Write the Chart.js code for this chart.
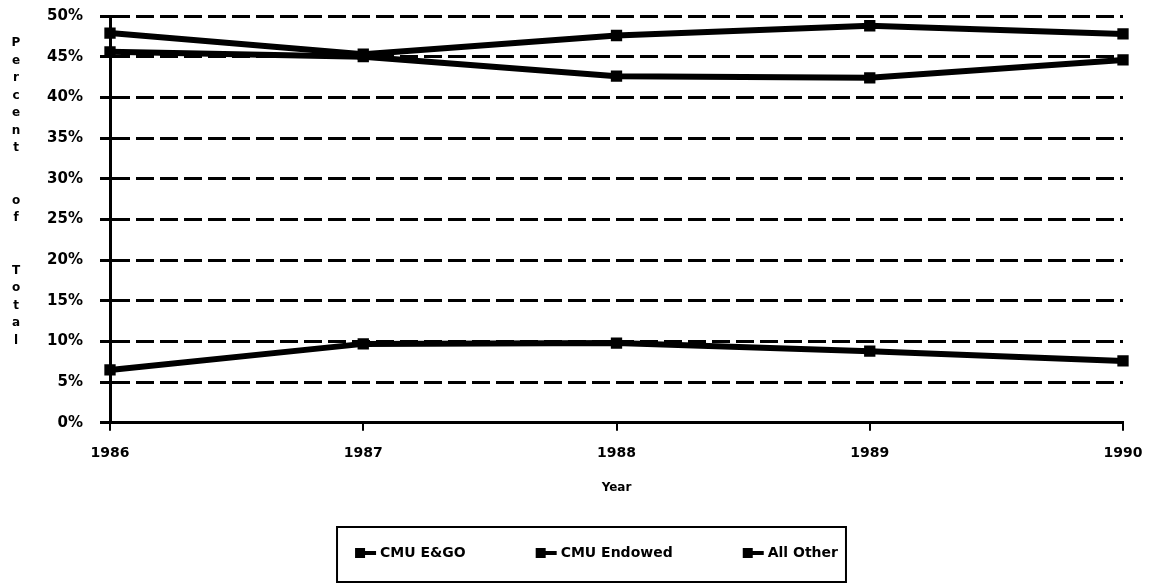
<!DOCTYPE html>
<html>
<head>
<meta charset="utf-8">
<script src="https://cdn.jsdelivr.net/npm/chart.js@4"></script>
<style>
  html, body { margin: 0; padding: 0; background: #fff; }
  #wrap { width: 1157px; height: 584px; position: relative; }
</style>
</head>
<body>
<div id="wrap"><canvas id="shareChart"></canvas></div>
<script>
// data
const years = ['1986', '1987', '1988', '1989', '1990'];
const cmuEgo = [6.5, 9.7, 9.8, 8.8, 7.6];
const cmuEndowed = [45.6, 45.0, 42.6, 42.4, 44.6];
const allOther = [47.9, 45.3, 47.6, 48.8, 47.8];
const seriesNames = ['CMU E&GO', 'CMU Endowed', 'All Other'];
const yTitle = 'Percent  of  Total';

const FONT = "'DejaVu Sans', sans-serif";
const legendBoxW = 88;

// little "square + line" marker used in the legend (transparent on the left to space items)
function legendMarker() {
  const c = document.createElement('canvas');
  c.width = legendBoxW + 8;
  c.height = 12;
  const g = c.getContext('2d');
  const x0 = c.width - 22;
  g.fillStyle = '#000';
  g.fillRect(x0, 1, 10, 10);
  g.fillRect(x0, 4, 21, 4);
  return c;
}

// stacked letters of the y title, one per line
const yTitlePlugin = {
  id: 'yTitle',
  afterDraw(chart) {
    const ctx = chart.ctx;
    ctx.save();
    ctx.font = 'bold 12px ' + FONT;
    ctx.fillStyle = '#000';
    ctx.textAlign = 'center';
    ctx.textBaseline = 'middle';
    const lines = yTitle.split('').map(ch => ch === ' ' ? '' : ch);
    const startY = chart.chartArea.top + 27;
    lines.forEach((ch, i) => {
      if (ch) ctx.fillText(ch, 16, startY + i * 17.5);
    });
    ctx.restore();
  }
};

// border round the legend
const legendBoxPlugin = {
  id: 'legendBox',
  afterDraw(chart) {
    const hb = chart.legend.legendHitBoxes;
    if (!hb || !hb.length) return;
    const ctx = chart.ctx;
    const last = hb[hb.length - 1];
    const left = hb[0].left + (legendBoxW - 22 + 4) - 18;
    const right = last.left + last.width + 8;
    const top = hb[0].top - 19;
    const bottom = hb[0].top + 36;
    ctx.save();
    ctx.strokeStyle = '#000';
    ctx.lineWidth = 2;
    ctx.strokeRect(left, top, right - left, bottom - top);
    ctx.restore();
  }
};

function makeSet(label, data) {
  return {
    label: label,
    data: data,
    borderColor: '#000',
    backgroundColor: '#000',
    borderWidth: 6,
    pointStyle: 'rect',
    pointRadius: 8,
    pointHoverRadius: 8,
    pointBackgroundColor: '#000',
    pointBorderWidth: 0,
    tension: 0,
    fill: false
  };
}

const ctx = document.getElementById('shareChart').getContext('2d');
const shareChart = new Chart(ctx, {
  type: 'line',
  data: {
    labels: years,
    datasets: [
      makeSet(seriesNames[0], cmuEgo),
      makeSet(seriesNames[1], cmuEndowed),
      makeSet(seriesNames[2], allOther)
    ]
  },
  options: {
    responsive: true,
    maintainAspectRatio: false,
    animation: false,
    layout: { autoPadding: false, padding: { top: 16, right: 34, left: 0, bottom: 14 } },
    plugins: {
      tooltip: { enabled: false },
      legend: {
        position: 'bottom',
        labels: {
          usePointStyle: true,
          pointStyle: legendMarker(),
          pointStyleWidth: legendBoxW,
          padding: 0,
          color: '#000',
          font: { family: FONT, size: 14, weight: 'bold' }
        }
      }
    },
    scales: {
      x: {
        grid: { display: true, drawOnChartArea: false, color: '#000', lineWidth: 2, tickLength: 8 },
        border: { display: true, color: '#000', width: 3 },
        ticks: { color: '#000', padding: 14, maxRotation: 0, font: { family: FONT, size: 14, weight: 'bold' } },
        title: {
          display: true,
          text: 'Year',
          color: '#000',
          font: { family: FONT, size: 12, weight: 'bold' },
          padding: { top: 5, bottom: 51 }
        }
      },
      y: {
        min: 0,
        max: 50,
        afterFit(scale) {
          scale.width = 110;
          scale.paddingTop = 9;
          scale.paddingBottom = 9;
        },
        grid: { color: '#000', lineWidth: 3, tickLength: 10 },
        border: { display: true, color: '#000', width: 3, dash: [18, 6] },
        ticks: {
          stepSize: 5,
          color: '#000',
          padding: 17,
          font: { family: FONT, size: 15, weight: 'bold' },
          callback: v => v + '%'
        }
      }
    }
  },
  plugins: [yTitlePlugin, legendBoxPlugin]
});
</script>
</body>
</html>
